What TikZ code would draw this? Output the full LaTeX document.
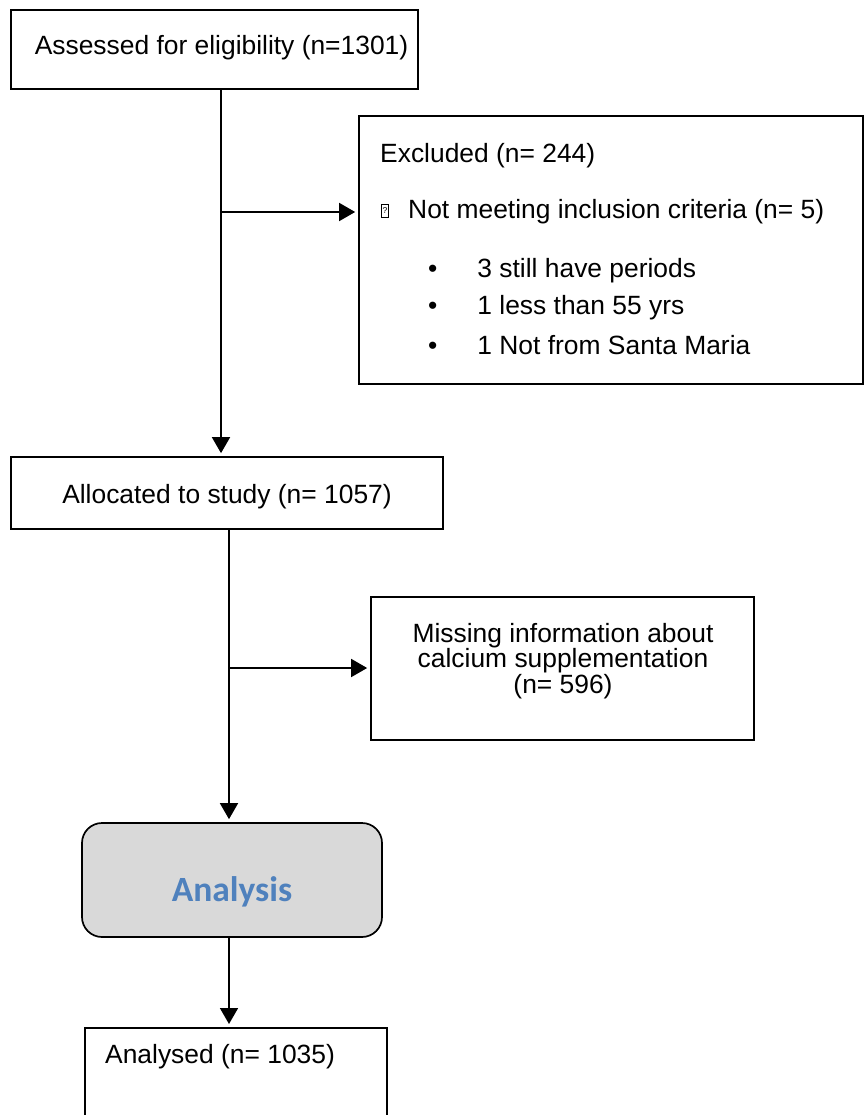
\documentclass[tikz,border=0pt]{standalone}
\usepackage{fontspec}
\setmainfont{Liberation Sans}
\newfontfamily\calibri{Carlito}
\usetikzlibrary{arrows.meta,positioning}
\definecolor{boxgray}{HTML}{D9D9D9}
\definecolor{analysisblue}{HTML}{4F81BD}
\tikzset{
  flowbox/.style={draw, line width=1.7pt, inner sep=0pt},
  flowtext/.style={inner sep=0pt, font=\fontsize{26.4}{31}\selectfont},
  flowarrow/.style={line width=1.7pt, shorten >=3pt, -{Triangle[width=18pt,length=16pt]}},
}

\begin{document}
\begin{tikzpicture}[x=1pt,y=-1pt]
    \useasboundingbox (0,0) rectangle (864,1115);

    % boxes
    \node[flowbox, minimum width=407pt, minimum height=79pt] (assessed) at (214.5,49.5) {};
    \node[flowtext] (assessedtxt) at (221.5,48) {Assessed for eligibility (n=1301)};

    \node[flowbox, minimum width=504pt, minimum height=268pt] (excluded) at (611,250) {};
    \node[flowtext, anchor=west] (excl) at (380,156) {Excluded (n= 244)};
    \node[draw, line width=0.8pt, inner sep=0pt, minimum width=7pt, minimum height=12.5pt,
          font=\fontsize{8.5}{9}\selectfont] (tofu) at (385,211) {?};
    \node[flowtext, anchor=west] (notmeet) at (408,212) {Not meeting inclusion criteria (n= 5)};
    \node[flowtext, anchor=west] (crit1) at (428,271) {\textbullet\hspace{40pt}3 still have periods};
    \node[flowtext, anchor=west] (crit2) at (428,308) {\textbullet\hspace{40pt}1 less than 55 yrs};
    \node[flowtext, anchor=west] (crit3) at (428,345) {\textbullet\hspace{40pt}1 Not from Santa Maria};

    \node[flowbox, minimum width=432pt, minimum height=72pt] (allocated) at (227,493) {};
    \node[flowtext] (allocatedtxt) at (227,497) {Allocated to study (n= 1057)};

    \node[flowbox, minimum width=383pt, minimum height=143pt] (missing) at (562.5,668.5) {};
    \node[flowtext, align=center, font=\fontsize{26.4}{23.5}\selectfont] (missingtxt) at (563,661)
        {Missing information about\\calcium supplementation\\(n= 596)};

    \node[flowbox, fill=boxgray, rounded corners=20pt, minimum width=300pt, minimum height=114pt] (analysis) at (232,880) {};
    \node[inner sep=0pt, text=analysisblue, font=\calibri\bfseries\fontsize{35.5}{38}\selectfont] (analysistxt) at (232,892) {Analysis};

    \node[flowbox, anchor=north west, minimum width=302pt, minimum height=110pt] (analysed) at (84,1027) {};
    \node[flowtext, anchor=west] (analysedtxt) at (105,1057) {Analysed (n= 1035)};

    % connectors
    \coordinate (split1) at (221,212);
    \coordinate (split2) at (229,668);
    \draw[flowarrow] (assessed.south -| split1) -- (allocated.north -| split1);
    \draw[flowarrow] (split1) -- (excluded.west |- split1);
    \draw[flowarrow] (allocated.south -| split2) -- (analysis.north -| split2);
    \draw[flowarrow] (split2) -- (missing.west |- split2);
    \draw[flowarrow] (analysis.south -| split2) -- (analysed.north -| split2);
\end{tikzpicture}
\end{document}
